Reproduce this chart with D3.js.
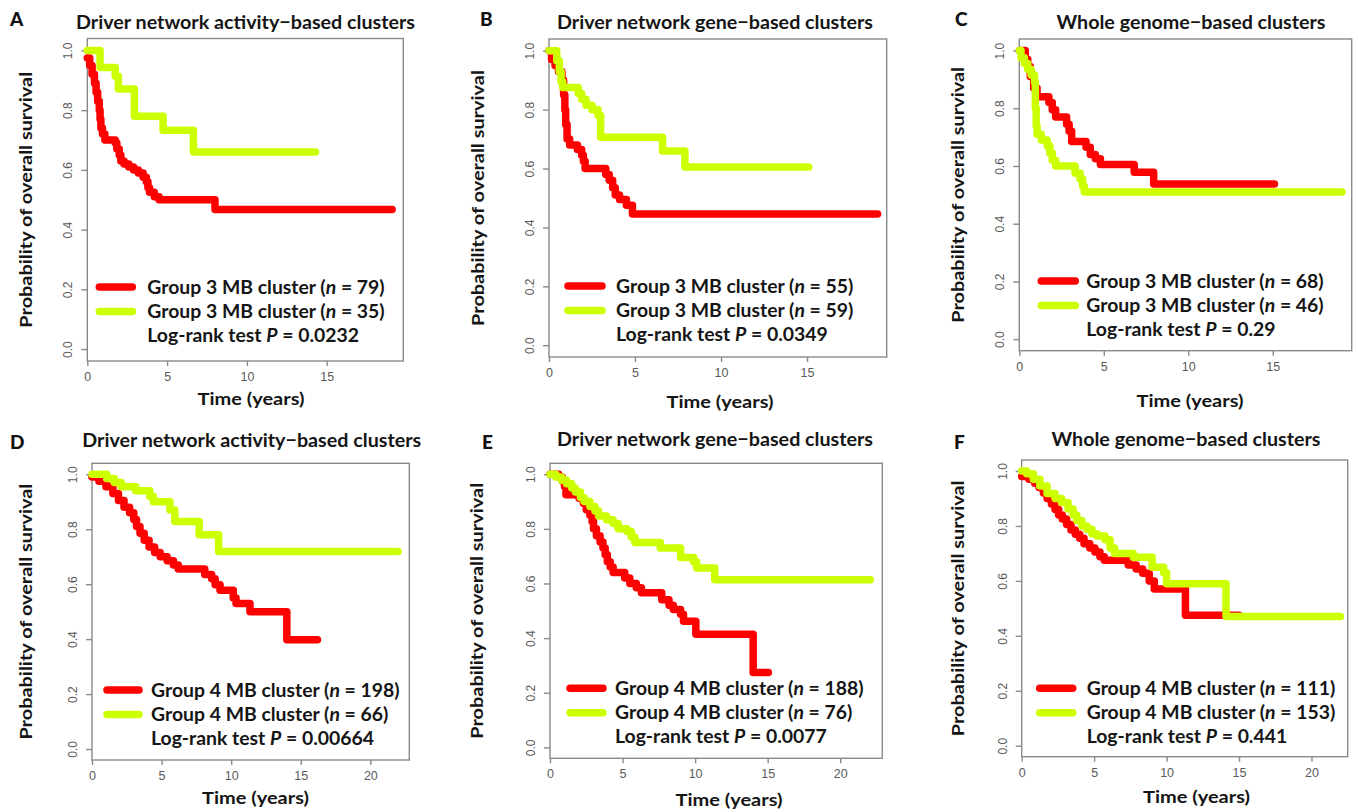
<!DOCTYPE html>
<html><head><meta charset="utf-8">
<script src="https://cdn.jsdelivr.net/npm/d3@7"></script>
<style>body{margin:0;background:#fff;} svg{display:block;}</style>
</head><body>
<svg id="chart" width="1358" height="812"></svg>
<script>
// ---------------- DATA ----------------
const panelLetters = ["A", "B", "C", "D", "E", "F"];
const panelTitles = [
  "Driver network activity\u2212based clusters",
  "Driver network gene\u2212based clusters",
  "Whole genome\u2212based clusters",
  "Driver network activity\u2212based clusters",
  "Driver network gene\u2212based clusters",
  "Whole genome\u2212based clusters"
];
const legendGroup = ["Group 3 MB cluster", "Group 3 MB cluster", "Group 3 MB cluster",
                     "Group 4 MB cluster", "Group 4 MB cluster", "Group 4 MB cluster"];
const nRed = [79, 55, 68, 198, 188, 111];
const nGreen = [35, 59, 46, 66, 76, 153];
const pValues = ["0.0232", "0.0349", "0.29", "0.00664", "0.0077", "0.441"];
const xTicksTop = [0, 5, 10, 15];
const xTicksBottom = [0, 5, 10, 15, 20];
const yTicks = [0, 0.2, 0.4, 0.6, 0.8, 1.0];
const xLabel = "Time (years)";
const yLabel = "Probability of overall survival";

// Kaplan-Meier step curves: [time (years), survival]
const redA = [[0,0.975],[0.15,0.95],[0.3,0.92],[0.45,0.89],[0.55,0.86],[0.65,0.83],[0.75,0.80],[0.8,0.77],[0.85,0.74],[0.95,0.72],[1.1,0.70],[1.75,0.69],[1.85,0.67],[2.0,0.65],[2.1,0.63],[2.3,0.62],[2.6,0.61],[2.9,0.60],[3.2,0.59],[3.5,0.575],[3.7,0.56],[3.8,0.54],[3.9,0.525],[4.2,0.51],[4.5,0.50],[8.0,0.467],[19.1,0.467]];
const greenA = [[0,1.0],[0.8,0.943],[1.75,0.914],[1.95,0.871],[2.95,0.78],[4.75,0.733],[6.65,0.66],[14.3,0.66]];
const redB = [[0,1.0],[0.15,0.97],[0.35,0.95],[0.55,0.93],[0.75,0.90],[0.85,0.85],[0.92,0.80],[0.97,0.75],[1.05,0.70],[1.2,0.68],[1.65,0.665],[1.9,0.645],[2.0,0.625],[2.1,0.60],[3.3,0.58],[3.5,0.56],[3.7,0.535],[3.85,0.51],[4.1,0.495],[4.5,0.475],[4.85,0.446],[19.1,0.446]];
const greenB = [[0,1.0],[0.45,0.966],[0.6,0.93],[0.7,0.895],[0.8,0.875],[1.7,0.855],[1.9,0.835],[2.15,0.815],[2.5,0.80],[2.85,0.78],[3.0,0.706],[6.6,0.66],[7.9,0.605],[15.1,0.605]];
const redC = [[0,1.0],[0.35,0.97],[0.5,0.945],[0.65,0.91],[0.85,0.87],[1.05,0.84],[1.75,0.82],[1.95,0.795],[2.15,0.77],[2.8,0.745],[2.95,0.72],[3.1,0.685],[3.95,0.665],[4.2,0.64],[4.5,0.625],[4.8,0.605],[6.8,0.578],[7.95,0.538],[15.1,0.538]];
const greenC = [[0,1.0],[0.1,0.975],[0.3,0.955],[0.5,0.935],[0.7,0.915],[0.9,0.89],[0.95,0.80],[1.0,0.74],[1.05,0.71],[1.3,0.69],[1.65,0.67],[1.8,0.645],[1.95,0.62],[2.15,0.60],[3.3,0.575],[3.6,0.555],[3.75,0.53],[3.85,0.51],[19.1,0.51]];
const redD = [[0,0.99],[0.5,0.975],[1.0,0.955],[1.5,0.93],[1.9,0.905],[2.3,0.88],[2.7,0.86],[3.0,0.835],[3.2,0.81],[3.45,0.785],[3.75,0.76],[4.1,0.735],[4.5,0.715],[4.9,0.70],[5.4,0.685],[5.85,0.67],[6.2,0.655],[8.1,0.635],[8.6,0.62],[8.85,0.598],[9.2,0.578],[10.15,0.55],[10.35,0.53],[11.35,0.50],[14.0,0.398],[16.2,0.398]];
const greenD = [[0,1.0],[1.05,0.985],[1.6,0.97],[2.1,0.955],[3.15,0.94],[4.15,0.92],[4.4,0.90],[5.6,0.87],[5.95,0.828],[7.7,0.78],[9.1,0.719],[22.0,0.719]];
const redE = [[0,1.0],[0.6,0.99],[0.85,0.975],[1.0,0.955],[1.1,0.925],[2.0,0.912],[2.3,0.894],[2.5,0.87],[2.75,0.85],[2.9,0.827],[3.0,0.80],[3.2,0.775],[3.45,0.752],[3.65,0.73],[3.8,0.705],[3.95,0.68],[4.15,0.66],[4.35,0.64],[5.15,0.62],[5.5,0.60],[5.95,0.584],[6.3,0.566],[7.7,0.54],[8.2,0.52],[8.5,0.505],[9.0,0.487],[9.2,0.462],[10.05,0.414],[14.0,0.274],[15.05,0.274]];
const greenE = [[0,1.0],[0.4,0.99],[0.8,0.978],[1.15,0.965],[1.5,0.95],[1.75,0.935],[2.1,0.915],[2.35,0.90],[2.75,0.882],[3.1,0.865],[3.35,0.847],[3.9,0.833],[4.35,0.82],[4.7,0.80],[5.3,0.79],[5.6,0.77],[5.85,0.75],[7.6,0.73],[9.0,0.695],[9.9,0.68],[10.1,0.657],[11.35,0.614],[22.07,0.614]];
const redF = [[0,0.98],[0.5,0.97],[0.9,0.955],[1.2,0.94],[1.5,0.92],[1.75,0.90],[2.05,0.88],[2.3,0.86],[2.55,0.84],[2.8,0.825],[3.1,0.805],[3.4,0.785],[3.7,0.77],[4.0,0.755],[4.3,0.735],[4.7,0.72],[5.05,0.705],[5.4,0.688],[5.7,0.675],[7.35,0.658],[7.9,0.643],[8.35,0.628],[8.8,0.60],[9.15,0.57],[11.3,0.475],[15.0,0.475]];
const greenF = [[0,1.0],[0.35,0.99],[0.8,0.97],[1.25,0.945],[1.75,0.918],[2.3,0.90],[2.75,0.885],[3.2,0.862],[3.55,0.84],[3.8,0.82],[4.15,0.80],[4.5,0.788],[4.85,0.772],[5.2,0.763],[5.75,0.75],[6.1,0.72],[6.4,0.70],[7.7,0.686],[9.0,0.65],[9.8,0.63],[10.0,0.59],[14.1,0.47],[22.0,0.47]];

const redSeries = [redA, redB, redC, redD, redE, redF];
const greenSeries = [greenA, greenB, greenC, greenD, greenE, greenF];
const xTickSets = [xTicksTop, xTicksTop, xTicksTop, xTicksBottom, xTicksBottom, xTicksBottom];
const xMaxes = [19.8, 19.63, 19.67, 22.8, 22.9, 22.5];

// ---------------- LAYOUT ----------------
const boxes = [
  {L: 87.3, R: 403.3, T: 38.5, B: 361},
  {L: 549, R: 886.7, T: 39, B: 357},
  {L: 1019.3, R: 1351.7, T: 39, B: 350.7},
  {L: 92, R: 409.3, T: 463.3, B: 760},
  {L: 550, R: 882.3, T: 463.3, B: 758.3},
  {L: 1021.7, R: 1347.7, T: 460, B: 756.7}
];
const letterPos = [[10, 26], [480, 26], [955, 26], [10, 448.5], [482, 449], [954, 448.5]];
const titlePos = [[245.5, 29], [715, 28.5], [1191, 28.5], [251.7, 447], [715, 446], [1186, 446]];
const yLabX = [25, 477.5, 957.5, 25, 476, 957.5];
const xLabPos = [[251, 405], [720, 408], [1190, 406.5], [255.5, 804], [729, 805.5], [1196.5, 803]];
const legendCfg = [
  {x0: 12, x1: 45, tx: 60, row1: 287},
  {x0: 19, x1: 53, tx: 67, row1: 286},
  {x0: 22, x1: 56, tx: 67, row1: 281},
  {x0: 15, x1: 47, tx: 59, row1: 690},
  {x0: 20, x1: 53, tx: 65, row1: 688.3},
  {x0: 18, x1: 51, tx: 65, row1: 688.3}
];

const RED = "#ff0000", GREEN = "#ccff00";
const SANS = "Lato, 'Open Sans', sans-serif";
const TICKFONT = "'Liberation Sans', Arial, sans-serif";

const svg = d3.select("#chart");

// font size from glyph height, horizontal scale from the measured reference width
function textStyle(str, size, targetW) {
  const t = svg.append("text").attr("font-family", SANS).attr("font-weight", 700)
    .attr("font-size", size).text(str);
  const w = t.node().getComputedTextLength();
  t.remove();
  return {size, sx: targetW / w};
}

function label(parent, x, y, st, str, opts = {}) {
  const t = parent.append("text")
    .attr("transform", `translate(${x},${y})${opts.rotate ? " rotate(-90)" : ""} scale(${st.sx.toFixed(4)},1)`)
    .attr("text-anchor", opts.anchor || "start")
    .attr("font-family", SANS).attr("font-weight", 700)
    .attr("font-size", st.size).attr("fill", "#151515");
  if (opts.central) t.attr("dominant-baseline", "central");
  if (str !== null) t.text(str);
  return t;
}

const titleSt = textStyle(panelTitles[0], 18.5, 339);
const legendSt = textStyle("Group 3 MB cluster (n = 79)", 18.5, 238);
const xLabSt = textStyle(xLabel, 17, 107);
const yLabSt = textStyle(yLabel, 17.5, 256);

panelLetters.forEach((letter, i) => {
  const b = boxes[i];
  const g = svg.append("g");
  const x = d3.scaleLinear().domain([0, xMaxes[i]]).range([b.L, b.R]);
  const y = d3.scaleLinear().domain([-0.04, 1.04]).range([b.B, b.T]);

  // box
  g.append("rect").attr("x", b.L).attr("y", b.T).attr("width", b.R - b.L).attr("height", b.B - b.T)
    .attr("fill", "none").attr("stroke", "#8a8a8a").attr("stroke-width", 1.4);

  // x axis
  const xAxis = d3.axisBottom(x).tickValues(xTickSets[i]).tickSize(5).tickPadding(6).tickFormat(d3.format("d"));
  const xg = g.append("g").attr("transform", `translate(0,${b.B})`).call(xAxis);
  xg.select(".domain").remove();
  xg.selectAll("line").attr("stroke", "#8a8a8a").attr("stroke-width", 1.4);
  xg.selectAll("text").attr("font-family", TICKFONT).attr("font-size", 12.5).attr("fill", "#5a5a5a");

  // y axis
  const yAxis = d3.axisLeft(y).tickValues(yTicks).tickSize(6).tickFormat(d3.format(".1f"));
  const yg = g.append("g").attr("transform", `translate(${b.L},0)`).call(yAxis);
  yg.select(".domain").remove();
  yg.selectAll("line").attr("stroke", "#8a8a8a").attr("stroke-width", 1.4);
  yg.selectAll("text")
    .attr("x", null).attr("dy", null)
    .attr("text-anchor", "middle")
    .attr("dominant-baseline", "central")
    .attr("transform", "translate(-19,0) rotate(-90)")
    .attr("font-family", TICKFONT).attr("font-size", 12).attr("fill", "#5a5a5a");

  // curves
  const line = d3.line().x(d => x(d[0])).y(d => y(d[1])).curve(d3.curveStepAfter);
  [[redSeries[i], RED], [greenSeries[i], GREEN]].forEach(([data, col]) => {
    g.append("path").datum(data).attr("d", line).attr("fill", "none")
      .attr("stroke", col).attr("stroke-width", 7.5)
      .attr("stroke-linejoin", "round").attr("stroke-linecap", "round");
  });

  // letter
  svg.append("text").attr("x", letterPos[i][0]).attr("y", letterPos[i][1])
    .attr("font-family", SANS).attr("font-weight", 900).attr("font-size", 19)
    .attr("fill", "#111").text(letter);

  // title
  label(svg, titlePos[i][0], titlePos[i][1], titleSt, panelTitles[i], {anchor: "middle"});
  // x label
  label(svg, xLabPos[i][0], xLabPos[i][1], xLabSt, xLabel, {anchor: "middle"});
  // y label
  label(svg, yLabX[i], (b.T + b.B) / 2, yLabSt, yLabel, {anchor: "middle", rotate: true, central: true});

  // legend
  const lc = legendCfg[i];
  const rows = [lc.row1, lc.row1 + 24.5];
  const ns = [nRed[i], nGreen[i]];
  [RED, GREEN].forEach((col, k) => {
    g.append("line").attr("x1", b.L + lc.x0).attr("x2", b.L + lc.x1)
      .attr("y1", rows[k]).attr("y2", rows[k])
      .attr("stroke", col).attr("stroke-width", 7.5).attr("stroke-linecap", "round");
    const t = label(g, b.L + lc.tx, rows[k] + 6.5, legendSt, null);
    t.append("tspan").text(legendGroup[i] + " (");
    t.append("tspan").attr("font-style", "italic").text("n");
    t.append("tspan").text(" = " + ns[k] + ")");
  });
  const t3 = label(g, b.L + lc.tx, lc.row1 + 55, legendSt, null);
  t3.append("tspan").text("Log-rank test ");
  t3.append("tspan").attr("font-style", "italic").text("P");
  t3.append("tspan").text(" = " + pValues[i]);
});
</script>
</body></html>
